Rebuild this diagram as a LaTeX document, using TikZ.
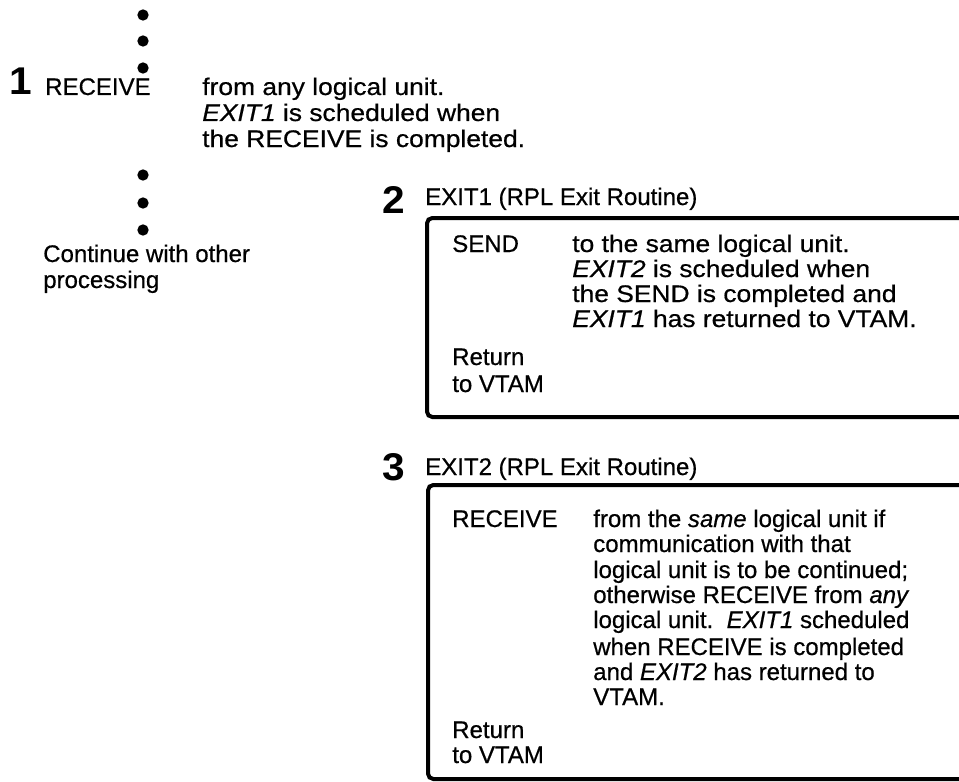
\documentclass[tikz,border=0pt]{standalone}
\usepackage{fontspec}
\setmainfont{Liberation Sans}[FakeBold=0.6]
\newfontfamily\widefont{Liberation Sans}[FakeStretch=1.1,FakeBold=0.6]
\newfontfamily\numfont{Liberation Sans}[FakeStretch=1.05]
\begin{document}
\begin{tikzpicture}[x=0.75pt,y=-0.75pt,
  txt/.style={anchor=base west,inner sep=0pt,font=\fontsize{18}{20}\selectfont},
  wide/.style={txt,font=\widefont\fontsize{18}{20}\selectfont},
  num/.style={anchor=base west,inner sep=0pt,font=\numfont\fontsize{29}{32}\selectfont\bfseries},
  dot/.style={circle,fill=black,inner sep=0pt,minimum size=8.5pt},
  frame/.style={line width=3pt,rounded corners=4pt}]
\useasboundingbox (0,0) rectangle (959,781);
% dots
\node[dot] (d1) at (143,15) {};
\node[dot] (d2) at (143,41) {};
\node[dot] (d3) at (143,68) {};
\node[dot] (d4) at (143,175) {};
\node[dot] (d5) at (143,203) {};
\node[dot] (d6) at (143,230) {};
% step 1
\node[num] (n1) at (9,95) {1};
\node[txt] (r1) at (45,95) {RECEIVE};
\node[wide] (a1) at (202,95) {from any logical unit.};
\node[wide] (a2) at (202,121) {\textit{EXIT1} is scheduled when};
\node[wide] (a3) at (202,147) {the RECEIVE is completed.};
\node[txt] (c1) at (43,262) {Continue with other};
\node[txt] (c2) at (43,288) {processing};
% step 2
\node[num] (n2) at (382,213) {2};
\node[txt] (h2) at (425,205) {EXIT1 (RPL Exit Routine)};
\draw[frame] (975,218) -- (427,218) -- (427,417) -- (975,417);
\node[txt] (s2) at (452,252) {SEND};
\node[wide] (b1) at (572,252) {to the same logical unit.};
\node[wide] (b2) at (572,277) {\textit{EXIT2} is scheduled when};
\node[wide] (b3) at (572,302) {the SEND is completed and};
\node[wide] (b4) at (572,327) {\textit{EXIT1} has returned to VTAM.};
\node[txt] (rt2a) at (452,365) {Return};
\node[txt] (rt2b) at (452,392) {to VTAM};
% step 3
\node[num] (n3) at (382,480) {3};
\node[txt] (h3) at (425,475) {EXIT2 (RPL Exit Routine)};
\draw[frame] (975,485) -- (428,485) -- (428,779) -- (975,779);
\node[txt] (s3) at (452,527) {RECEIVE};
\node[txt] (e1) at (593,527) {from the \textit{same} logical unit if};
\node[txt] (e2) at (593,552) {communication with that};
\node[txt] (e3) at (593,578) {logical unit is to be continued;};
\node[txt] (e4) at (593,603) {otherwise RECEIVE from \textit{any}};
\node[txt] (e5) at (593,628) {logical unit.\ \ \textit{EXIT1} scheduled};
\node[txt] (e6) at (593,655) {when RECEIVE is completed};
\node[txt] (e7) at (593,680) {and \textit{EXIT2} has returned to};
\node[txt] (e8) at (593,705) {VTAM.};
\node[txt] (rt3a) at (452,738) {Return};
\node[txt] (rt3b) at (452,763) {to VTAM};
\end{tikzpicture}
\end{document}
